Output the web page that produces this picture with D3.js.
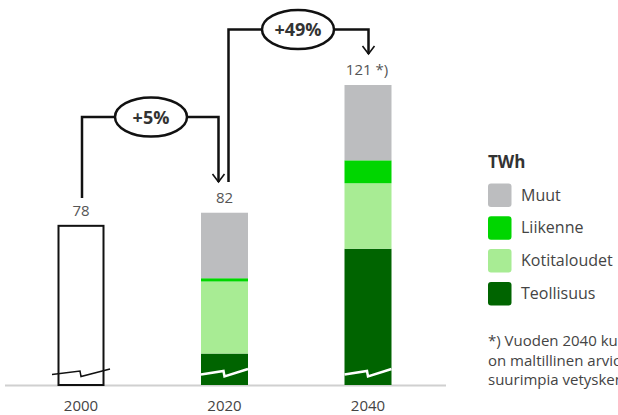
<!DOCTYPE html>
<html><head><meta charset="utf-8">
<script src="https://cdn.jsdelivr.net/npm/d3@7"></script>
<style>
html,body{margin:0;padding:0;background:#fff;overflow:hidden}
svg{display:block;font-family:"Open Sans",sans-serif}
</style></head>
<body><svg id="c" width="618" height="415"></svg>
<script>
// ---- data ----
const years = ["2000","2020","2040"];
const seriesNames = ["Teollisuus","Kotitaloudet","Liikenne","Muut"];
const teollisuus   = [null, 39, 71];
const kotitaloudet = [null, 22, 20];
const liikenne     = [null, 1, 7];
const muut         = [null, 20, 23];
const totals       = [78, 82, 121];
const totalLabels  = ["78","82","121 *)"];
const changes      = ["+5%","+49%"];
const legendOrder  = ["Muut","Liikenne","Kotitaloudet","Teollisuus"];
const legendTitle  = "TWh";
const footnote = ["*) Vuoden 2040 kulutusennuste","on maltillinen arvio, joka ei sisällä","suurimpia vetyskenaarioita"];

const colors = {Muut:"#bcbdbf", Liikenne:"#00d600", Kotitaloudet:"#a8ec94", Teollisuus:"#006400"};
const breakValue = 29.4; // axis is broken: bars start at this value

const svg = d3.select("#c");
const baseY = 385, topY = 85;
const x = d3.scalePoint().domain(years).range([81, 368]);
const y = d3.scaleLinear().domain([breakValue, 121]).range([baseY, topY]);
const bw = 47;

// baseline
svg.append("line").attr("x1",5).attr("x2",446).attr("y1",baseY+0.5).attr("y2",baseY+0.5)
  .attr("stroke","#d0d0d0").attr("stroke-width",2);

// stacked bars
const seriesVals = {Teollisuus:teollisuus, Kotitaloudet:kotitaloudet, Liikenne:liikenne, Muut:muut};
const rows = years.map((yr,i)=>{const r={year:yr}; seriesNames.forEach(s=>r[s]=seriesVals[s][i]||0); return r;});
const stack = d3.stack().keys(seriesNames)(rows.filter((r,i)=>seriesVals.Teollisuus[i]!=null));
stack.forEach(layer=>{
  svg.append("g").selectAll("rect").data(layer).join("rect")
    .attr("x",d=>x(d.data.year)-bw/2).attr("width",bw)
    .attr("y",d=>y(Math.max(d[1],breakValue)))
    .attr("height",d=>y(Math.max(d[0],breakValue))-y(Math.max(d[1],breakValue)))
    .attr("fill",colors[layer.key]);
});

// 2000 outlined bar
svg.append("rect").attr("x",x("2000")-bw/2+1).attr("width",bw-2)
  .attr("y",y(totals[0])).attr("height",baseY-y(totals[0]))
  .attr("fill","#fff").attr("stroke","#111").attr("stroke-width",2);

// break marks
function zig(cx, half){
  return [[cx-half,374.5],[cx-1,371],[cx,376.5],[cx+half,369]];
}
const line = d3.line();
svg.append("path").attr("d",line(zig(x("2000"),29))).attr("fill","none").attr("stroke","#111").attr("stroke-width",1.5);
["2020","2040"].forEach(yr=>{
  svg.append("path").attr("d",line(zig(x(yr),bw/2))).attr("fill","none").attr("stroke","#fff").attr("stroke-width",2.5);
});

// value labels
svg.selectAll("text.val").data(years).join("text").attr("class","val")
  .attr("x",(d,i)=>x(d)+(i==2?-1:0)).attr("y",(d,i)=>y(totals[i])-10)
  .attr("text-anchor","middle").attr("font-size",15).attr("fill","#555")
  .text((d,i)=>totalLabels[i]);

// x labels
svg.selectAll("text.xl").data(years).join("text").attr("class","xl")
  .attr("x",d=>x(d)).attr("y",411).attr("text-anchor","middle")
  .attr("font-size",15).attr("fill","#444").text(d=>d);

// change arrows
function arrow(x1, yStart, yTop, x2, yEnd, cx, label){
  const g = svg.append("g");
  g.append("path").attr("d",line([[x1,yStart],[x1,yTop],[x2,yTop],[x2,yEnd]]))
    .attr("fill","none").attr("stroke","#111").attr("stroke-width",2.5);
  g.append("path").attr("d",line([[x2-6,yEnd-8],[x2,yEnd],[x2+6,yEnd-8]]))
    .attr("fill","none").attr("stroke","#111").attr("stroke-width",1.6);
  g.append("ellipse").attr("cx",cx).attr("cy",yTop).attr("rx",36).attr("ry",19.5)
    .attr("fill","#fff").attr("stroke","#111").attr("stroke-width",2.5);
  g.append("text").attr("x",cx).attr("y",yTop+6.5).attr("text-anchor","middle")
    .attr("font-size",18).attr("font-weight","bold").attr("fill","#333").text(label);
}
arrow(x("2000")+1, 198, 117, x("2020")-6, 182, 151, changes[0]);
arrow(x("2020")+4, 182, 29.5, x("2040")+0.5, 54, 298, changes[1]);

// legend
const lg = svg.append("g").attr("transform","translate(488,0)");
lg.append("text").attr("x",0).attr("y",168).attr("font-size",17).attr("font-weight","bold").attr("fill","#333").text(legendTitle);
legendOrder.forEach((s,i)=>{
  const yy = 183.5 + i*32.8;
  lg.append("rect").attr("x",0).attr("y",yy).attr("width",23.5).attr("height",23.5).attr("rx",3).attr("fill",colors[s]);
  lg.append("text").attr("x",33).attr("y",yy+17).attr("font-size",16).attr("fill","#444").text(s);
});
footnote.forEach((t,i)=>{
  lg.append("text").attr("x",0).attr("y",346+i*19.5).attr("font-size",15).attr("fill","#444").text(t);
});
</script></body></html>
